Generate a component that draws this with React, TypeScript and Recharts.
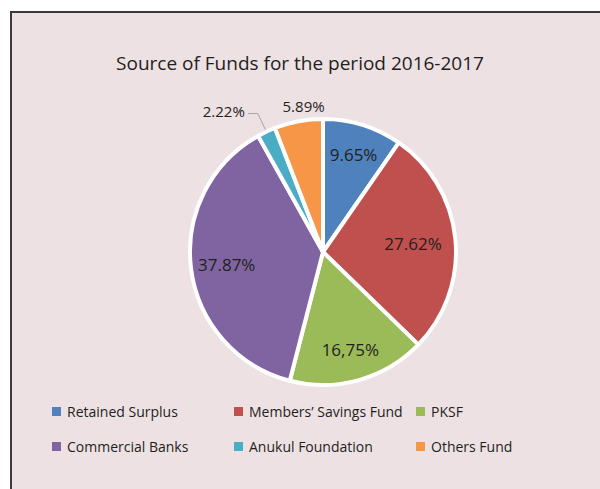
import React from 'react';
import { PieChart, Pie, Cell, Legend } from 'recharts';

// source of funds, share in percent
const fundNames = [
  'Retained Surplus',
  "Members\u2019 Savings Fund",
  'PKSF',
  'Commercial Banks',
  'Anukul Foundation',
  'Others Fund',
];
const fundShares = [9.65, 27.62, 16.75, 37.87, 2.22, 5.89];
const shareLabels = ['9.65%', '27.62%', '16,75%', '37.87%', '2.22%', '5.89%'];
const fundColors = ['#4F81BD', '#C0504D', '#9BBB59', '#8064A2', '#4BACC6', '#F79646'];

const data = fundNames.map((name, i) => ({ name, value: fundShares[i] }));

const RAD = Math.PI / 180;
const FONT = '"Open Sans", sans-serif';

const renderLabel = (props: any) => {
  const { cx, cy, midAngle, outerRadius, index } = props;
  const cos = Math.cos(-midAngle * RAD);
  const sin = Math.sin(-midAngle * RAD);
  const text = shareLabels[index];

  if (index === 4) {
    // small slice: label outside with a leader line
    const sx = cx + (outerRadius + 2) * cos;
    const sy = cy + (outerRadius + 2) * sin;
    const ex = cx + (outerRadius + 20) * cos;
    const ey = cy + (outerRadius + 20) * sin;
    return (
      <g>
        <polyline
          points={`${sx},${sy} ${ex},${ey} ${ex - 10},${ey}`}
          fill="none"
          stroke="#A6A6A6"
          strokeWidth={1}
        />
        <text x={ex - 13} y={ey - 3} textAnchor="end" dominantBaseline="central"
          fill="#231F20" fontSize={15} fontFamily={FONT}>
          {text}
        </text>
      </g>
    );
  }
  if (index === 5) {
    const r = outerRadius + 16;
    return (
      <text x={cx + r * cos + 8} y={cy + r * sin} textAnchor="middle" dominantBaseline="central"
        fill="#231F20" fontSize={15} fontFamily={FONT}>
        {text}
      </text>
    );
  }
  const factor = [0.77, 0.68, 0.76, 0.73][index];
  const r = outerRadius * factor;
  return (
    <text x={cx + r * cos} y={cy + r * sin} textAnchor="middle" dominantBaseline="central"
      fill="#231F20" fontSize={17} fontFamily={FONT}>
      {text}
    </text>
  );
};

const renderLegend = () => {
  const colX = [52, 234, 416];
  const rowY = [0, 35];
  return (
    <div style={{ position: 'relative', width: 600, height: 60, fontFamily: FONT, fontSize: 14, color: '#231F20' }}>
      {fundNames.map((name, i) => (
        <div
          key={name}
          style={{
            position: 'absolute',
            left: colX[i % 3],
            top: rowY[Math.floor(i / 3)],
            display: 'flex',
            alignItems: 'center',
            whiteSpace: 'nowrap',
          }}
        >
          <span style={{ display: 'inline-block', width: 9, height: 9, background: fundColors[i], marginRight: 6 }} />
          <span>{name}</span>
        </div>
      ))}
    </div>
  );
};

const App: React.FC = () => {
  return (
    <div style={{ position: 'absolute', left: 0, top: 0, width: 600, height: 489, background: '#fff', overflow: 'hidden' }}>
      <div
        style={{
          position: 'absolute',
          left: 10,
          top: 11,
          width: 600,
          height: 490,
          background: '#EEE1E4',
          borderTop: '2px solid #3A3A3A',
          borderLeft: '2px solid #3A3A3A',
        }}
      />
      <div
        style={{
          position: 'absolute',
          left: 0,
          top: 50,
          width: 600,
          textAlign: 'center',
          fontFamily: FONT,
          fontSize: 19,
          color: '#231F20',
        }}
      >
        Source of Funds for the period 2016-2017
      </div>
      <div style={{ position: 'absolute', left: 0, top: 0 }}>
        <PieChart width={600} height={489} margin={{ top: 0, right: 0, bottom: 0, left: 0 }}>
          <Pie
            data={data}
            dataKey="value"
            nameKey="name"
            cx={323}
            cy={252}
            outerRadius={133}
            startAngle={90}
            endAngle={-270}
            stroke="#FFFFFF"
            strokeWidth={4}
            label={renderLabel}
            labelLine={false}
            isAnimationActive={false}
          >
            {data.map((d, i) => (
              <Cell key={d.name} fill={fundColors[i]} />
            ))}
          </Pie>
          <Legend
            content={renderLegend}
            wrapperStyle={{ position: 'absolute', left: 0, top: 402, width: 600 }}
          />
        </PieChart>
      </div>
    </div>
  );
};

export default App;
